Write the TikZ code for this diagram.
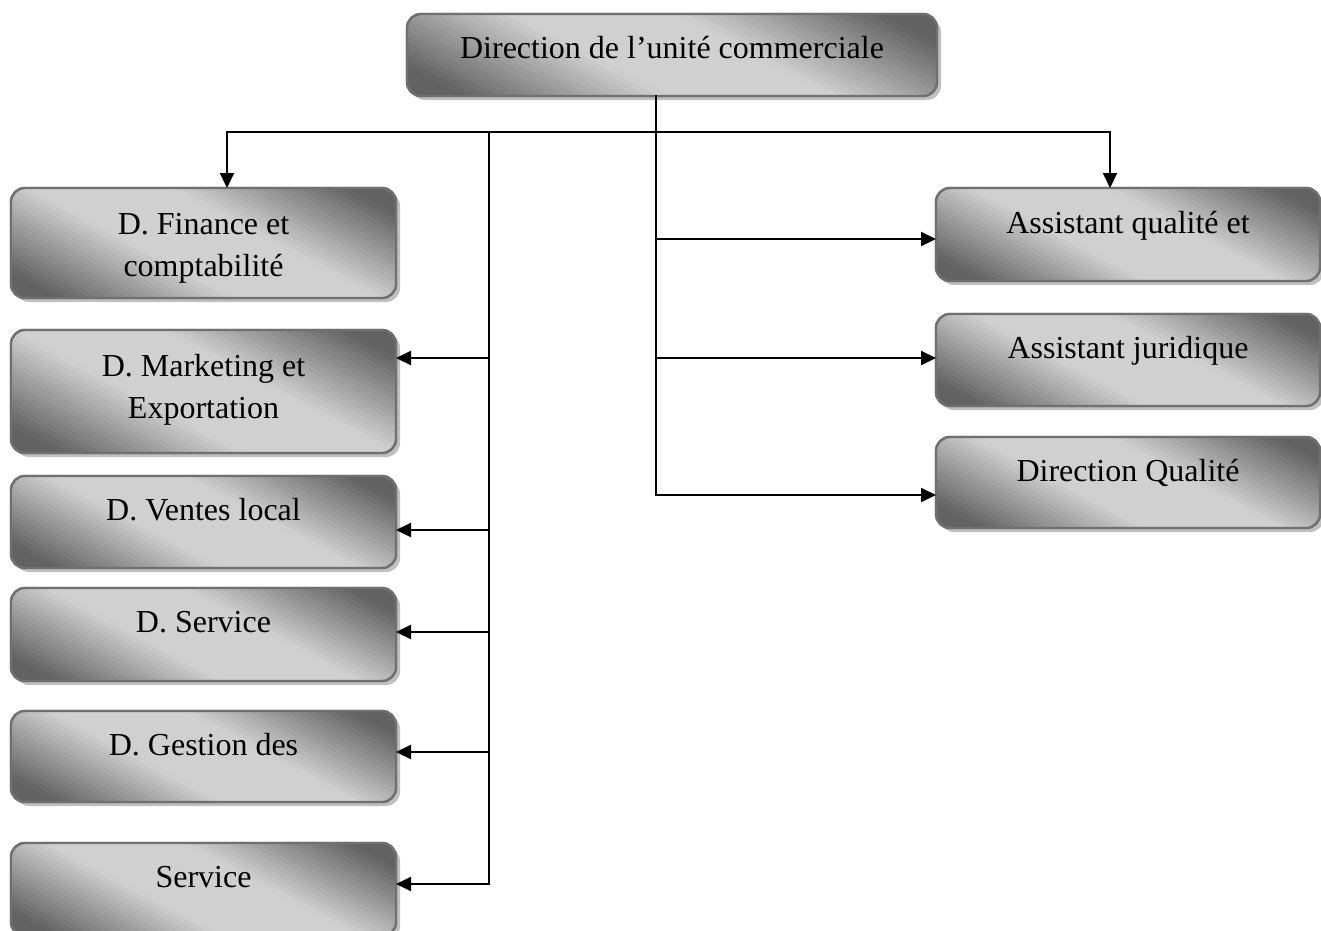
\documentclass[tikz,border=0pt]{standalone}
\usepackage{fontspec}
\setmainfont{Liberation Serif}
\usetikzlibrary{arrows.meta,shadows}
\definecolor{boxedge}{RGB}{112,112,112}
\definecolor{boxdark}{RGB}{98,98,98}
\definecolor{boxlight}{RGB}{208,208,208}
\definecolor{shadowgray}{RGB}{192,192,192}
\tikzset{
  box/.style={draw=boxedge, line width=2.4pt, rounded corners=14pt, inner sep=0pt, outer sep=0pt,
    fill=boxlight,
    drop shadow={shadow xshift=4pt, shadow yshift=-4pt, fill=shadowgray, opacity=1}},
  boxrim/.style={draw=boxedge, line width=2.4pt, rounded corners=14pt},
  lbl/.style={font=\fontsize{32}{42}\selectfont, align=center, anchor=base, inner sep=0pt},
  conn/.style={line width=2pt, line cap=rect},
  arr/.style={line width=2pt, -{Triangle[length=15pt,width=14pt]}},
}
% metal-like gradient inside a box node: bands run at -28 degrees,
% dark in the lower-left and upper-right corners, light through the middle.
% Band corners are given as explicit canvas lengths (pt), measured from the
% lower-left corner of the box.
\newcommand\metalfill[1]{%
  \begin{scope}
    \clip[rounded corners=14pt] (#1.south west) rectangle (#1.north east);
    \pgfpointdiff{\pgfpointanchor{#1}{south west}}{\pgfpointanchor{#1}{north east}}%
    \pgfgetlastxy{\bw}{\bh}%
    \pgfmathsetmacro\smax{0.469*\bw+0.883*\bh}%
    \pgfmathsetmacro\sstep{\smax/60}%
    \begin{scope}[shift={(#1.south west)}]
      \foreach \i in {0,...,59}{%
        \pgfmathsetmacro\sa{\i*\sstep}%
        \pgfmathsetmacro\sb{\sa+1.4*\sstep}%
        \pgfmathsetmacro\pax{0.469*\sa+530}\pgfmathsetmacro\pay{0.883*\sa-281}%
        \pgfmathsetmacro\pbx{0.469*\sa-530}\pgfmathsetmacro\pby{0.883*\sa+281}%
        \pgfmathsetmacro\pcx{0.469*\sb-530}\pgfmathsetmacro\pcy{0.883*\sb+281}%
        \pgfmathsetmacro\pdx{0.469*\sb+530}\pgfmathsetmacro\pdy{0.883*\sb-281}%
        \pgfmathsetmacro\pd{100*min(1,max(0,(abs((\i+0.5)/60-0.5)-0.12)/0.3))}%
        \fill[boxdark!\pd!boxlight] (\pax pt,\pay pt) -- (\pbx pt,\pby pt)
          -- (\pcx pt,\pcy pt) -- (\pdx pt,\pdy pt) -- cycle;
      }
    \end{scope}
  \end{scope}
  \draw[boxrim] (#1.south west) rectangle (#1.north east);
}
\begin{document}
\begin{tikzpicture}[x=1pt,y=-1pt]
\clip (0,0) rectangle (1321,930);
\fill[white] (0,0) rectangle (1321,930);

% boxes
\node[box, minimum width=530, minimum height=82] (top) at (672,55) {};
\node[box, minimum width=385, minimum height=110] (fin) at (203.5,243) {};
\node[box, minimum width=385, minimum height=123] (mkt) at (203.5,391.5) {};
\node[box, minimum width=385, minimum height=92] (ven) at (203.5,522) {};
\node[box, minimum width=385, minimum height=93] (srv) at (203.5,634.5) {};
\node[box, minimum width=385, minimum height=91] (ges) at (203.5,756.5) {};
\node[box, minimum width=385, minimum height=93] (svc) at (203.5,889.5) {};
\node[box, minimum width=384, minimum height=93] (aq) at (1128,234.5) {};
\node[box, minimum width=384, minimum height=92] (aj) at (1128,360) {};
\node[box, minimum width=384, minimum height=91] (dq) at (1128,482.5) {};
\foreach \b in {top,fin,mkt,ven,srv,ges,svc,aq,aj,dq}{\metalfill{\b}}

% labels (a two-line label sits on the baseline of its last line)
\node[lbl] (ttop) at ([yshift=-44pt]top.north) {Direction de l’unité commerciale};
\node[lbl] (tfin) at ([yshift=-88pt]fin.north) {D. Finance et\\comptabilité};
\node[lbl] (tmkt) at ([yshift=-88pt]mkt.north) {D. Marketing et\\Exportation};
\node[lbl] (tven) at ([yshift=-44pt]ven.north) {D. Ventes local};
\node[lbl] (tsrv) at ([yshift=-44pt]srv.north) {D. Service};
\node[lbl] (tges) at ([yshift=-44pt]ges.north) {D. Gestion des};
\node[lbl] (tsvc) at ([yshift=-44pt]svc.north) {Service};
\node[lbl] (taq) at ([yshift=-45pt]aq.north) {Assistant qualité et};
\node[lbl] (taj) at ([yshift=-44pt]aj.north) {Assistant juridique};
\node[lbl] (tdq) at ([yshift=-44pt]dq.north) {Direction Qualité};

% junction points
\coordinate (stemtop) at (656,96);
\coordinate (stembot) at (656,495);
\coordinate (barL) at (227,132);
\coordinate (barR) at (1110,132);
\coordinate (spinetop) at (489,132);
\coordinate (spinebot) at (489,884);
\coordinate (jmkt) at (489,358);
\coordinate (jven) at (489,530);
\coordinate (jsrv) at (489,632);
\coordinate (jges) at (489,752);
\coordinate (jsvc) at (489,884);
\coordinate (jaq) at (656,239);
\coordinate (jaj) at (656,358);
\coordinate (jdq) at (656,495);

% connectors
\draw[conn] (stemtop) -- (stembot);
\draw[conn] (barL) -- (barR);
\draw[conn] (spinetop) -- (spinebot);
\draw[arr] (barL) -- (barL |- fin.north);
\draw[arr] (barR) -- (barR |- aq.north);
\draw[arr] (jmkt) -- (mkt.east |- jmkt);
\draw[arr] (jven) -- (ven.east |- jven);
\draw[arr] (jsrv) -- (srv.east |- jsrv);
\draw[arr] (jges) -- (ges.east |- jges);
\draw[arr] (jsvc) -- (svc.east |- jsvc);
\draw[arr] (jaq) -- (aq.west |- jaq);
\draw[arr] (jaj) -- (aj.west |- jaj);
\draw[arr] (jdq) -- (dq.west |- jdq);
\end{tikzpicture}
\end{document}
